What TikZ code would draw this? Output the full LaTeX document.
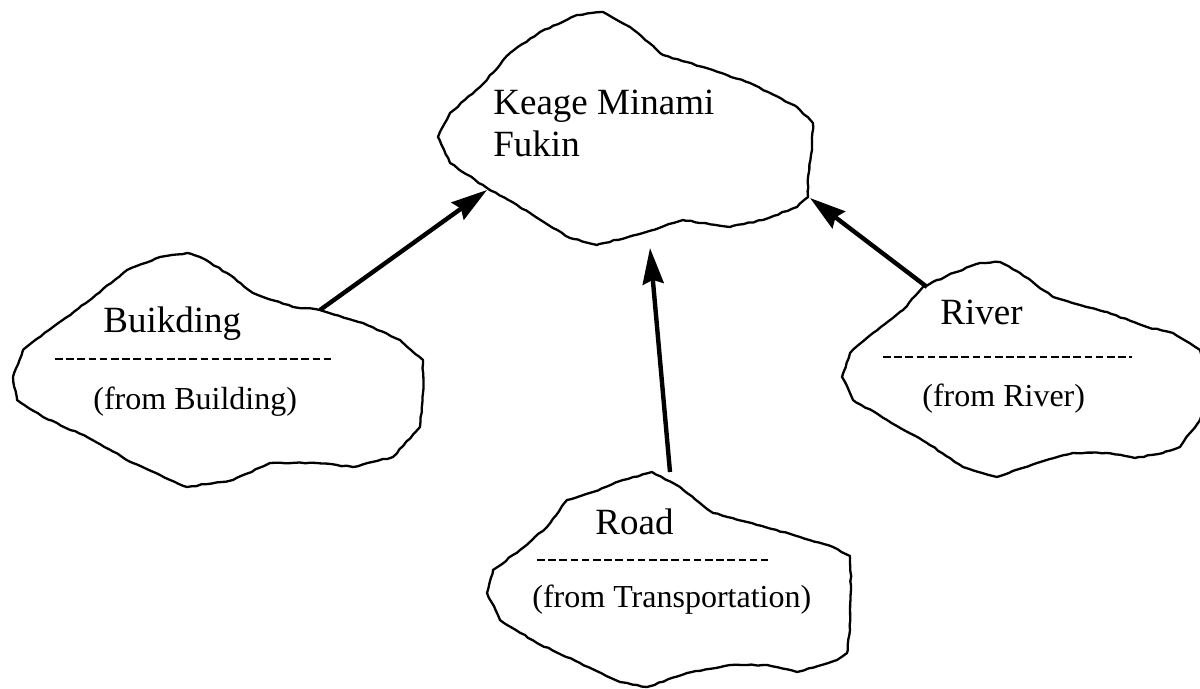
\documentclass[tikz,border=0pt]{standalone}
\usepackage{fontspec}
\setmainfont{Liberation Serif}
\usetikzlibrary{arrows.meta,decorations.pathmorphing}

\tikzset{
  cloud outline/.style={line width=1.15pt, line join=round,
    decorate, decoration={random steps, segment length=2.5pt, amplitude=0.3pt}},
  title text/.style={anchor=base west, inner sep=0pt, font=\fontsize{18.5}{22}\selectfont},
  source text/.style={anchor=base west, inner sep=0pt, font=\fontsize{16}{19}\selectfont},
  divider/.style={line width=1pt, dash pattern=on 3.8pt off 1.8pt},
  link/.style={line width=2.2pt, -{Stealth[length=18pt,width=10.5pt,inset=2pt]}},
}

\begin{document}
\begin{tikzpicture}[x=0.5pt,y=-0.5pt]
\pgfmathsetseed{11}
\useasboundingbox (0,0) rectangle (1200,689);
\clip (0,0) rectangle (1200,689);

% central cloud
\draw[cloud outline] plot[sharp cycle] coordinates {
  (603,12) (630,27) (663,55) (703,67) (750,83) (797,107) (813,123) (812,150)
  (808,177) (808,197) (797,207) (763,220) (730,227) (683,220) (643,233)
  (597,245) (570,238) (530,213) (487,188) (450,163) (438,137) (450,113)
  (480,87) (510,53) (540,32) (577,15)};
\node[title text] (keage) at (493,115) {Keage Minami};
\node[title text] (fukin) at (493,157) {Fukin};

% building cloud
\draw[cloud outline] plot[sharp cycle] coordinates {
  (187,253) (160,257) (127,270) (90,300) (53,327) (23,350) (13,377) (17,400)
  (43,417) (87,437) (133,463) (187,487) (233,480) (270,463) (317,463)
  (353,467) (393,457) (420,427) (423,393) (423,360) (400,340) (363,323)
  (320,310) (293,307) (253,293) (227,273) (200,257)};
\node[title text] (bname) at (103,333) {Buikding};
\draw[divider] (55,359) -- (332,359);
\node[source text] (bsrc) at (93,410) {(from Building)};

% river cloud
\draw[cloud outline] plot[sharp cycle] coordinates {
  (1000,262) (1020,273) (1053,297) (1080,305) (1107,312) (1147,327)
  (1173,333) (1200,350) (1212,385) (1200,420) (1190,433) (1180,447)
  (1163,453) (1135,458) (1107,453) (1073,453) (1037,463) (997,477)
  (963,467) (927,443) (887,420) (853,400) (842,377) (850,353) (873,333)
  (903,310) (923,287) (953,273) (980,263)};
\node[title text] (rname) at (940,325) {River};
\draw[divider] (883,357) -- (1132,357);
\node[source text] (rsrc) at (922,407) {(from River)};

% road cloud
\draw[cloud outline] plot[sharp cycle] coordinates {
  (652,472) (680,487) (713,513) (747,522) (800,537) (833,547) (850,556)
  (851,590) (850,630) (847,653) (837,660) (797,672) (767,665) (730,665)
  (687,673) (647,687) (620,682) (580,663) (537,643) (500,620) (487,593)
  (493,570) (520,550) (547,527) (567,500) (593,492) (623,480)};
\node[title text] (dname) at (595,535) {Road};
\draw[divider] (537,560) -- (768,560);
\node[source text] (dsrc) at (532,608) {(from Transportation)};

% attachment points on the outlines
\coordinate (bOut) at (320,310);
\coordinate (rOut) at (927,287);
\coordinate (dOut) at (670,472);
\coordinate (cInL) at (487,190);
\coordinate (cInR) at (810,198);
\coordinate (cInB) at (650,248);

% connectors
\draw[link] (bOut) -- (cInL);
\draw[link] (rOut) -- (cInR);
\draw[link] (dOut) -- (cInB);
\end{tikzpicture}
\end{document}
